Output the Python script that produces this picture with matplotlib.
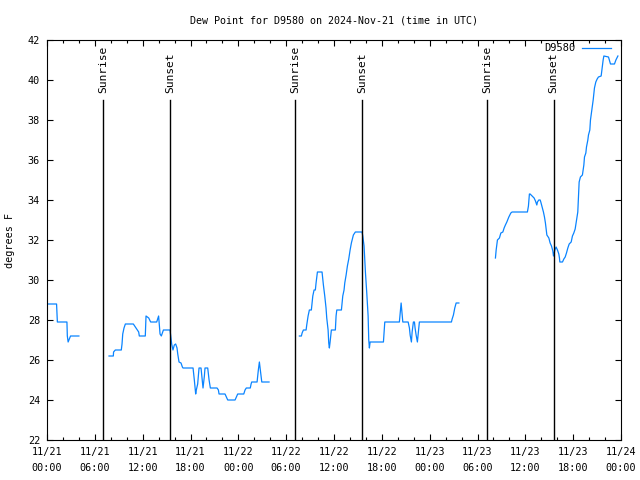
"""
Dew point time series for station D9580 with sunrise / sunset markers.
Writes out.png (640x480).
"""

import numpy as np
import pandas as pd
import matplotlib
matplotlib.use("Agg")
import matplotlib.pyplot as plt
import matplotlib.dates as mdates

# ---------------------------------------------------------------------------
# Data (hours after 2024-11-21 00:00 UTC, dew point in F; NaN = data gap)
# ---------------------------------------------------------------------------

NAN = np.nan

hours = [
    # 11/21 early morning
    0.0, 1.2, 1.3, 2.5, 2.55, 2.65, 2.95, 4.0, 5.0,
    # 11/21 day -> 11/22 night
    7.78, 8.32, 8.35, 8.57, 9.32, 9.41, 9.5, 9.66, 9.83, 10.83, 11.0, 11.33,
    11.5, 11.58, 12.33, 12.42, 12.76, 13.0, 13.76, 14.0, 14.18, 14.34, 14.6,
    15.43, 15.64, 15.8, 15.97, 16.14, 16.31, 16.4, 16.56, 16.81, 16.98, 17.06,
    18.32, 18.48, 18.57, 18.65, 18.73, 18.9, 19.07, 19.32, 19.49, 19.57, 19.74,
    19.82, 20.16, 20.33, 20.49, 21.33, 21.5, 21.58, 22.33, 22.5, 22.67, 23.59,
    23.75, 23.92, 24.68, 24.84, 25.0, 25.5, 25.6, 25.68, 26.35, 26.51, 26.64,
    26.76, 26.94, 27.85, 29.0,
    # 11/22 day
    31.66, 31.91, 32.0, 32.16, 32.5, 32.58, 32.75, 32.91, 33.16, 33.25, 33.34,
    33.5, 33.66, 33.75, 33.92, 34.5, 34.67, 34.84, 35.0, 35.09, 35.26, 35.34,
    35.42, 35.51, 35.67, 36.17, 36.26, 36.35, 36.93, 37.1, 37.26, 37.35, 37.52,
    37.68, 37.85, 38.02, 38.18, 38.43, 38.68, 39.52, 39.61, 39.77, 39.94,
    40.11, 40.28, 40.36, 40.44, 40.53, 42.2, 42.28, 42.37, 44.2, 44.29, 44.42,
    44.54, 44.63, 45.3, 45.46, 45.55, 45.71, 45.8, 45.96, 46.09, 46.17, 46.3,
    46.46, 46.59, 46.71, 50.73, 50.82, 50.98, 51.15, 51.32, 51.66, 53.0,
    # 11/23 day
    56.25, 56.34, 56.5, 56.75, 56.93, 57.18, 57.34, 57.5, 57.68, 57.93, 58.18,
    58.34, 60.26, 60.39, 60.51, 60.6, 60.85, 61.1, 61.27, 61.44, 61.52, 61.69,
    61.86, 61.94, 62.11, 62.27, 62.4, 62.52, 62.7, 62.95, 63.11, 63.28, 63.45,
    63.53, 63.7, 63.86, 64.03, 64.2, 64.28, 64.33, 64.66, 64.83, 65.0, 65.16,
    65.33, 65.5, 65.75, 65.91, 66.08, 66.25, 66.41, 66.58, 66.67, 66.75, 66.91,
    67.16, 67.25, 67.34, 67.42, 67.59, 67.67, 67.84, 67.92, 68.09, 68.17,
    68.34, 68.51, 68.67, 68.84, 69.01, 69.17, 69.51, 69.6, 69.76, 69.85, 70.43,
    70.68, 71.18, 71.36, 71.61,
]

dewpoint = [
    28.8, 28.8, 27.9, 27.9, 27.2, 26.9, 27.2, 27.2, NAN,
    26.2, 26.2, 26.4, 26.5, 26.5, 26.8, 27.3, 27.6, 27.8, 27.8, 27.7, 27.5,
    27.4, 27.2, 27.2, 28.2, 28.1, 27.9, 27.9, 28.2, 27.3, 27.2, 27.5,
    27.5, 26.8, 26.5, 26.75, 26.8, 26.6, 26.3, 25.9, 25.85, 25.65, 25.6,
    25.6, 25.0, 24.6, 24.3, 24.5, 24.8, 25.6, 25.6, 24.9, 24.6, 25.2,
    25.6, 25.6, 25.0, 24.6, 24.6, 24.5, 24.3, 24.3, 24.15, 24.0, 24.0,
    24.15, 24.3, 24.3, 24.5, 24.6, 24.6, 24.8, 24.9, 24.9, 25.5, 25.9,
    25.5, 24.9, 24.9, NAN,
    27.2, 27.2, 27.35, 27.5, 27.5, 27.75, 28.2, 28.5, 28.5, 28.85, 29.2,
    29.5, 29.5, 29.85, 30.4, 30.4, 29.75, 29.2, 28.6, 28.1, 27.5, 26.85,
    26.6, 26.9, 27.5, 27.5, 28.2, 28.5, 28.5, 29.2, 29.5, 29.85, 30.25,
    30.7, 31.05, 31.5, 31.85, 32.25, 32.4, 32.4, 32.2, 31.7, 30.4,
    29.35, 28.2, 27.0, 26.6, 26.9, 26.9, 27.4, 27.9, 27.9, 28.3, 28.85,
    28.3, 27.9, 27.9, 27.6, 27.25, 26.9, 27.4, 27.9, 27.9, 27.6, 27.25,
    26.9, 27.4, 27.9, 27.9, 28.05, 28.25, 28.6, 28.85, 28.85, NAN,
    31.1, 31.5, 32.0, 32.1, 32.35, 32.4, 32.6, 32.75, 32.9, 33.15, 33.35,
    33.4, 33.4, 33.7, 34.3, 34.3, 34.2, 34.1, 33.95, 33.75, 33.9, 34.0,
    34.0, 33.9, 33.65, 33.4, 33.15, 32.85, 32.25, 32.1, 31.85, 31.7, 31.45,
    31.2, 31.5, 31.65, 31.5, 31.3, 31.1, 30.9, 30.9, 31.05, 31.15, 31.35,
    31.6, 31.8, 31.9, 32.2, 32.35, 32.55, 32.95, 33.4, 34.15, 34.9, 35.15,
    35.25, 35.5, 35.75, 36.15, 36.35, 36.65, 37.0, 37.25, 37.5, 38.0,
    38.5, 39.0, 39.6, 39.9, 40.05, 40.15, 40.2, 40.5, 41.0, 41.2, 41.15,
    40.8, 40.8, 41.0, 41.2,
]

sun_events = ["2024-11-21 07:04", "2024-11-21 15:28", "2024-11-22 07:10",
              "2024-11-22 15:34", "2024-11-23 07:15", "2024-11-23 15:32"]
sun_labels = ["Sunrise", "Sunset", "Sunrise", "Sunset", "Sunrise", "Sunset"]

START = pd.Timestamp("2024-11-21 00:00")
END = pd.Timestamp("2024-11-24 00:00")
LINE_COLOR = "#0a84ff"
FONT = ["DejaVu Sans Mono"]


def main():
    plt.rcParams["font.family"] = FONT
    plt.rcParams["font.size"] = 7.3

    times = START + pd.to_timedelta(hours, unit="h")

    fig = plt.figure(figsize=(6.4, 4.8), dpi=100, facecolor="white")
    ax = fig.add_axes([47 / 640, 40 / 480, 574 / 640, 400 / 480])

    ax.plot(times, dewpoint, color=LINE_COLOR, linewidth=0.9, label="D9580")

    # sunrise / sunset markers
    for ev, lbl in zip(sun_events, sun_labels):
        t = pd.Timestamp(ev)
        ax.plot([t, t], [22, 39], color="black", linewidth=1.0)
        ax.text(t, 39.35, lbl, rotation=90, ha="center", va="bottom",
                fontsize=8.1)

    ax.set_xlim(START, END)
    ax.set_ylim(22, 42)
    ax.set_yticks(np.arange(22, 43, 2))
    ax.xaxis.set_major_locator(mdates.HourLocator(byhour=[0, 6, 12, 18]))
    ax.xaxis.set_minor_locator(mdates.HourLocator(byhour=range(0, 24, 2)))
    ax.xaxis.set_major_formatter(mdates.DateFormatter("%m/%d\n%H:%M"))

    ax.tick_params(which="both", direction="in", top=True, right=True,
                   labelsize=7.3, width=0.8)
    ax.tick_params(which="major", length=4.5, pad=5)
    ax.tick_params(which="minor", length=2.2)
    for sp in ax.spines.values():
        sp.set_linewidth(0.8)

    ax.set_ylabel("degrees F", fontsize=7.3)
    ax.yaxis.set_label_coords(-0.055, 0.5)
    ax.set_title("Dew Point for D9580 on 2024-Nov-21 (time in UTC)",
                 fontsize=7.2, pad=12)

    ax.legend(loc="upper right", bbox_to_anchor=(0.982, 0.992),
              frameon=False, fontsize=7.5, handlelength=2.8,
              markerfirst=False, borderaxespad=0.0, borderpad=0.0,
              handletextpad=0.6)

    fig.canvas.draw()
    for lbl in ax.get_xticklabels():
        lbl.set_linespacing(1.75)

    fig.savefig("out.png", dpi=100, facecolor="white")
    plt.close(fig)


if __name__ == "__main__":
    main()
